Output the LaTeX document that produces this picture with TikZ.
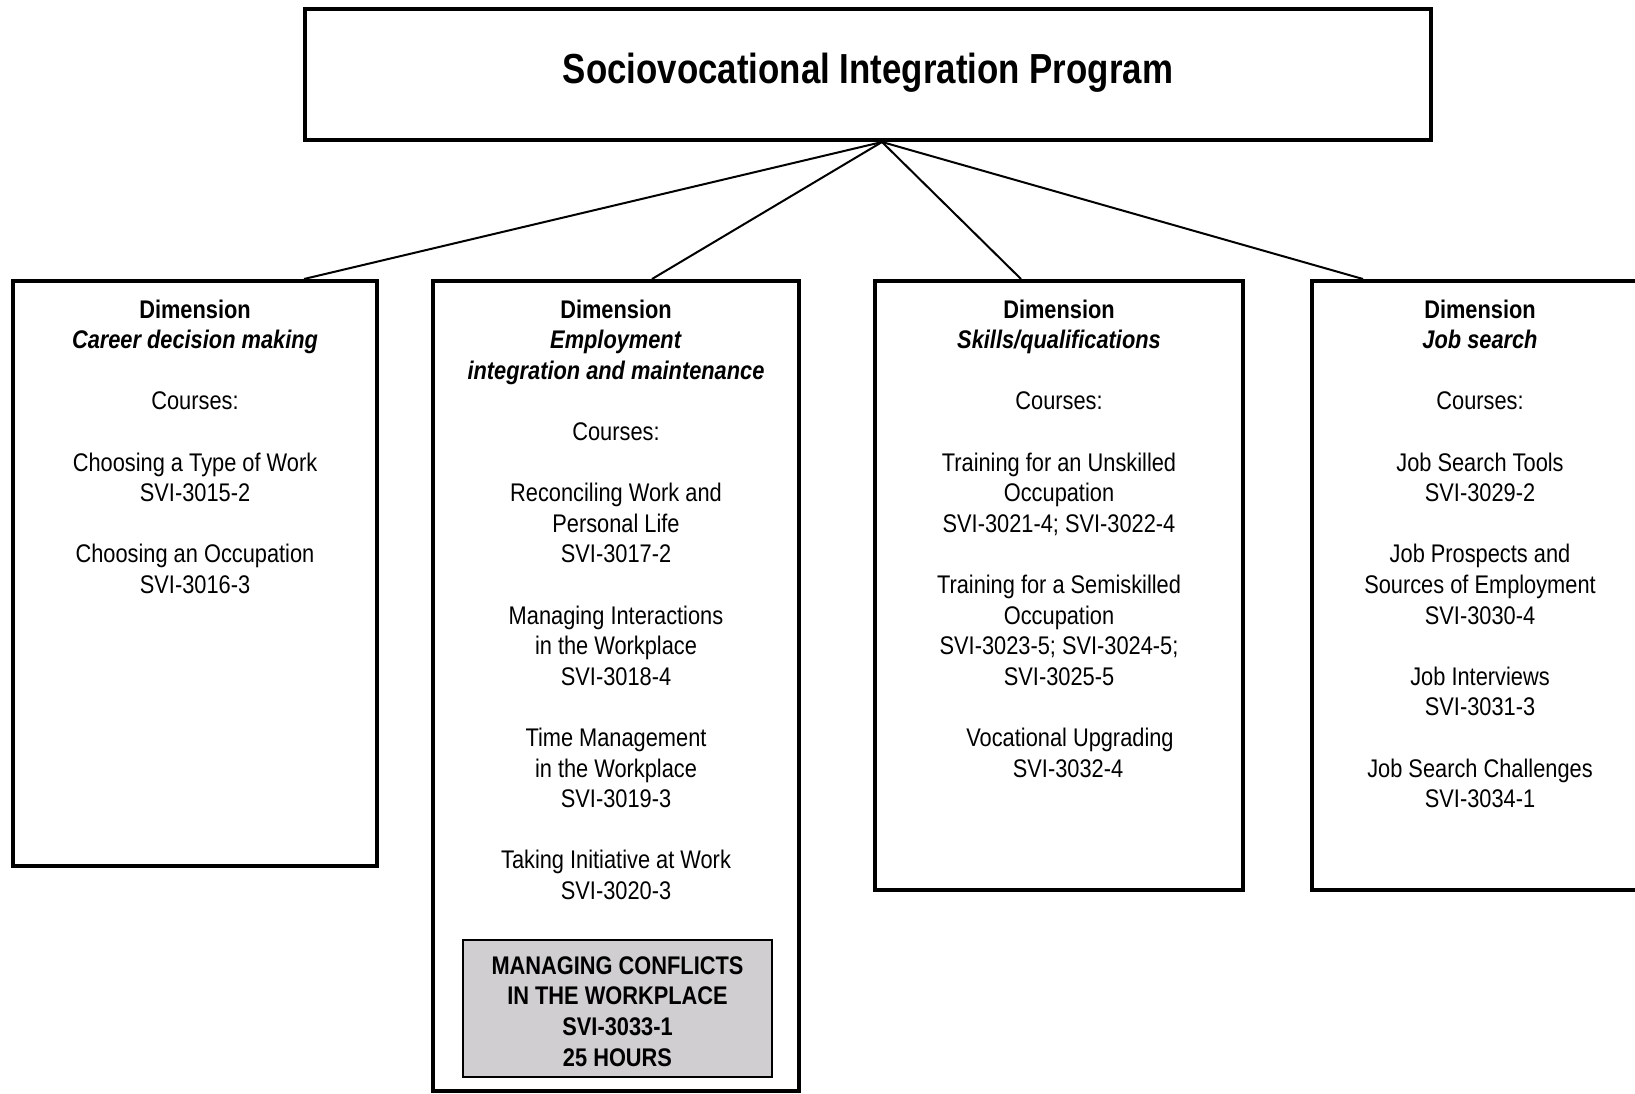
\documentclass[tikz,border=0pt]{standalone}
\usepackage{fontspec}
\setmainfont{Liberation Sans}[FakeStretch=0.855]
\newfontfamily\titlefont{Liberation Sans}[FakeStretch=0.83]
\usetikzlibrary{calc}
\definecolor{hlgray}{RGB}{208,206,208}
\tikzset{
  dimbox/.style={draw, line width=4pt, inner sep=0pt, fill=white},
  boxtext/.style={anchor=north, inner sep=0pt, align=center, font=\fontsize{25.5}{30.6}\selectfont},
  conn/.style={line width=2pt},
  hlbox/.style={draw, line width=2pt, fill=hlgray, inner sep=0pt, align=center,
    font=\fontsize{25.5}{30.6}\selectfont\bfseries},
  titlebox/.style={draw, line width=4pt, inner sep=0pt}
}
\begin{document}
\begin{tikzpicture}[x=1pt,y=-1pt]
\useasboundingbox (0,0) rectangle (1635,1093);
\begin{scope}
\clip (0,0) rectangle (1635,1093);
\fill[white] (0,0) rectangle (1635,1093);
% title
\node[titlebox, minimum width=1126pt, minimum height=131pt] (prog) at (868,74.5) {};
\node[font=\fontsize{42}{50}\titlefont\bfseries, inner sep=0pt] (progt) at (868,73) {Sociovocational Integration Program};
% dimension boxes
\node[dimbox, minimum width=364pt, minimum height=585pt] (d1) at (195,573.5) {};
\node[dimbox, minimum width=366pt, minimum height=810pt] (d2) at (616,686) {};
\node[dimbox, minimum width=368pt, minimum height=609pt] (d3) at (1059,585.5) {};
\node[dimbox, minimum width=336pt, minimum height=609pt] (d4) at (1480,585.5) {};
% connectors
\draw[conn] ([xshift=14pt]prog.south) -- ([xshift=109pt]d1.north);
\draw[conn] ([xshift=14pt]prog.south) -- ([xshift=36pt]d2.north);
\draw[conn] ([xshift=14pt]prog.south) -- ([xshift=-38pt]d3.north);
\draw[conn] ([xshift=14pt]prog.south) -- ([xshift=-117pt]d4.north);
% texts
\node[boxtext] (t1) at (195,299.5) {\textbf{Dimension}\\ \textbf{\textit{Career decision making}}\\[30.6pt]
Courses:\\[30.6pt]
Choosing a Type of Work\\ SVI-3015-2\\[30.6pt]
Choosing an Occupation\\ SVI-3016-3};
\node[boxtext] (t2) at (616,299.5) {\textbf{Dimension}\\ \textbf{\textit{Employment}}\\ \textbf{\textit{integration and maintenance}}\\[30.6pt]
Courses:\\[30.6pt]
Reconciling Work and\\ Personal Life\\ SVI-3017-2\\[30.6pt]
Managing Interactions\\ in the Workplace\\ SVI-3018-4\\[30.6pt]
Time Management\\ in the Workplace\\ SVI-3019-3\\[30.6pt]
Taking Initiative at Work\\ SVI-3020-3};
\node[boxtext] (t3) at (1059,299.5) {\textbf{Dimension}\\ \textbf{\textit{Skills/qualifications}}\\[30.6pt]
Courses:\\[30.6pt]
Training for an Unskilled\\ Occupation\\ SVI-3021-4; SVI-3022-4\\[30.6pt]
Training for a Semiskilled\\ Occupation\\ SVI-3023-5; SVI-3024-5;\\ SVI-3025-5\\[30.6pt]
\hspace*{22pt}Vocational Upgrading\\ \hspace*{18pt}SVI-3032-4};
\node[boxtext] (t4) at (1480,299.5) {\textbf{Dimension}\\ \textbf{\textit{Job search}}\\[30.6pt]
Courses:\\[30.6pt]
Job Search Tools\\ SVI-3029-2\\[30.6pt]
Job Prospects and\\ Sources of Employment\\ SVI-3030-4\\[30.6pt]
Job Interviews\\ SVI-3031-3\\[30.6pt]
Job Search Challenges\\ SVI-3034-1};
% highlighted course
\node[hlbox, minimum width=309pt, minimum height=137pt, text depth=0pt] (hl) at (617.5,1008.5) {};
\node[font=\fontsize{25.5}{30.6}\selectfont\bfseries, inner sep=0pt, align=center] (hlt) at (617.5,1011.5) {MANAGING CONFLICTS\\ IN THE WORKPLACE\\ SVI-3033-1\\ 25 HOURS};
\end{scope}
\end{tikzpicture}
\end{document}
